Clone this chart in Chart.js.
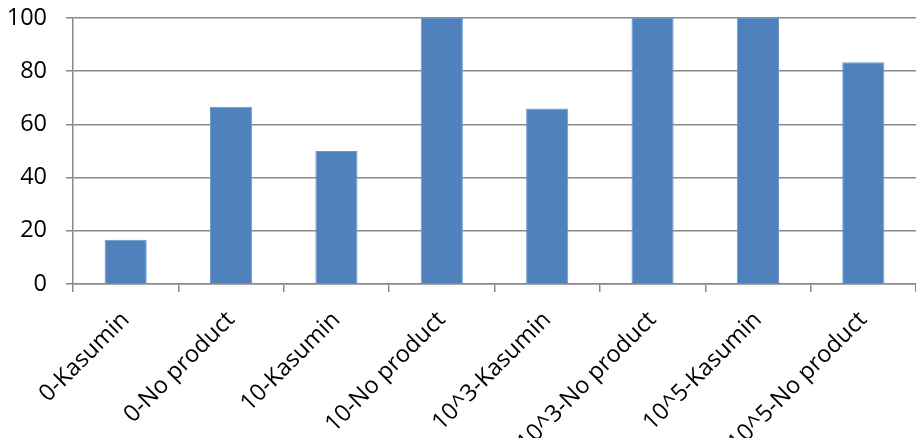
<!DOCTYPE html>
<html>
<head>
<meta charset="utf-8">
<script src="https://cdn.jsdelivr.net/npm/chart.js@4/dist/chart.umd.min.js"></script>
<style>
  html, body { margin: 0; padding: 0; background: #fff; }
  #wrap { width: 916px; height: 438px; }
</style>
</head>
<body>
<div id="wrap"><canvas id="chart"></canvas></div>
<script>
// Categories and values
const categories = [
  "0-Kasumin",
  "0-No product",
  "10-Kasumin",
  "10-No product",
  "10^3-Kasumin",
  "10^3-No product",
  "10^5-Kasumin",
  "10^5-No product",
];
const values = [16.67, 66.67, 50, 100, 66, 100, 100, 83.33];
const yTicks = [0, 20, 40, 60, 80, 100];

const axisFont = { size: 23.5, family: "'Open Sans', sans-serif" };
const gridGray = "#8a8a8a";

new Chart(document.getElementById("chart"), {
  type: "bar",
  data: {
    labels: categories,
    datasets: [
      {
        data: values,
        backgroundColor: "#4f81bd",
        borderColor: "#6e98cc",
        borderWidth: 1,
        barPercentage: 0.4,
        categoryPercentage: 1,
      },
    ],
  },
  options: {
    responsive: true,
    maintainAspectRatio: false,
    animation: false,
    layout: {
      padding: { top: 18, left: 8, right: 0, bottom: 0 },
    },
    plugins: {
      legend: { display: false },
      tooltip: { enabled: false },
    },
    scales: {
      y: {
        min: 0,
        max: 100,
        afterBuildTicks: function (axis) {
          axis.ticks = yTicks.map((v) => ({ value: v }));
        },
        afterFit: function (axis) {
          axis.width = 65;
          // the big label gap should not push the plot down
          axis.paddingTop = 0;
          axis.paddingBottom = 0;
        },
        ticks: {
          font: axisFont,
          color: "#000",
          padding: 19,
        },
        grid: {
          color: gridGray,
          lineWidth: 1.5,
          tickLength: 7,
        },
        border: { color: gridGray, width: 1.5 },
      },
      x: {
        afterFit: function (axis) {
          axis.height = 154;
        },
        ticks: {
          font: axisFont,
          color: "#000",
          minRotation: 45,
          maxRotation: 45,
          autoSkip: false,
          padding: 14,
        },
        grid: {
          offset: true,
          drawOnChartArea: false,
          color: gridGray,
          lineWidth: 1.5,
          tickLength: 8,
        },
        border: { color: gridGray, width: 1.5 },
      },
    },
  },
});
</script>
</body>
</html>
